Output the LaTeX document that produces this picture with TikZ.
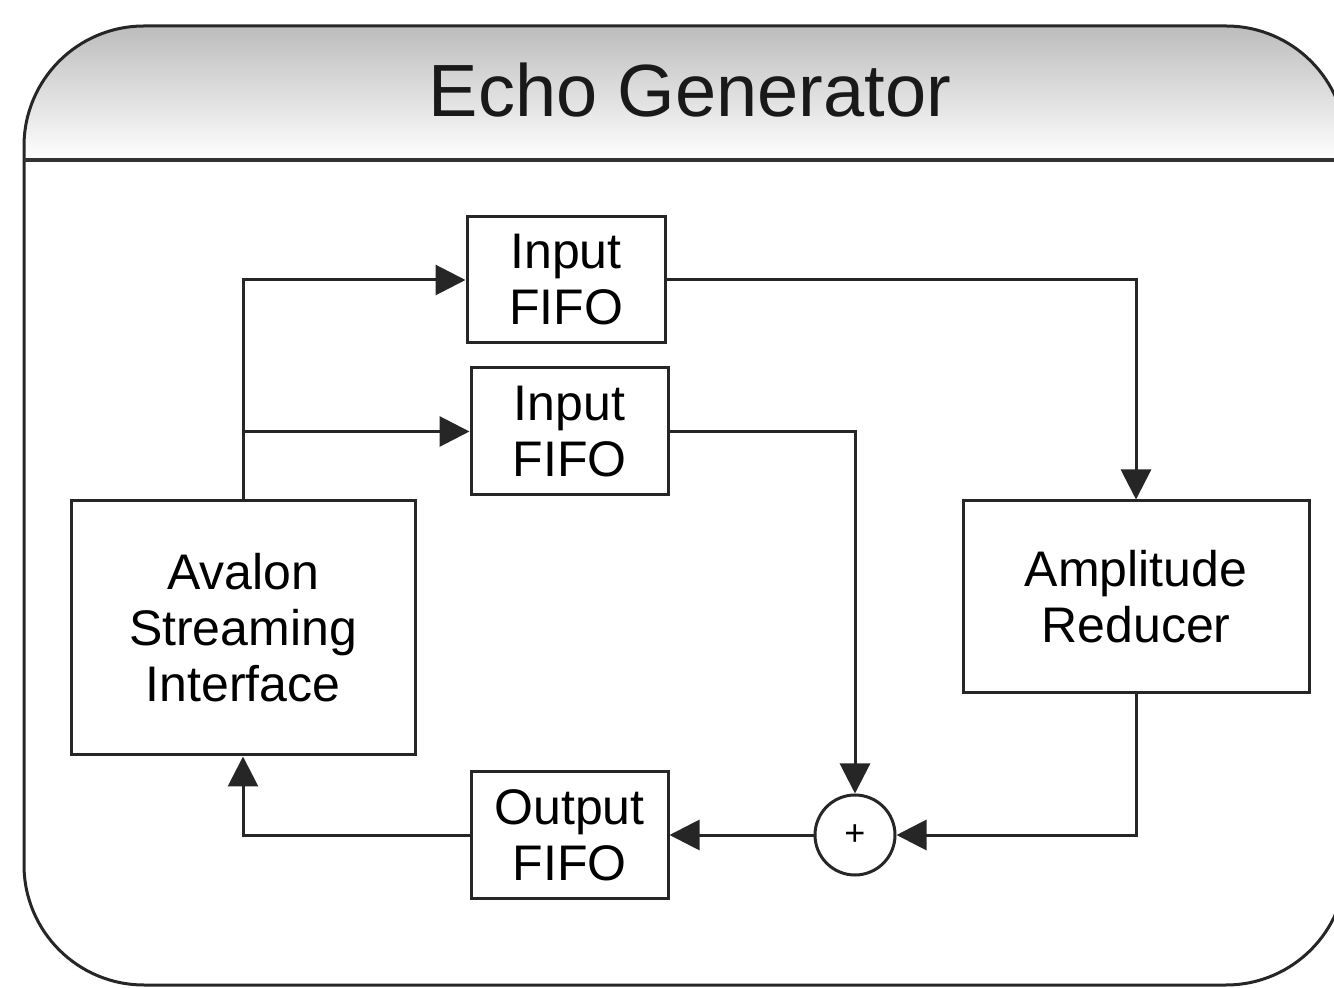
\documentclass[tikz,border=0pt]{standalone}
\usepackage{fontspec}
\setmainfont{Liberation Sans}
\usetikzlibrary{arrows.meta}
\begin{document}
\begin{tikzpicture}[x=0.5pt,y=-0.5pt,
  blk/.style={draw=black!85, line width=1.5pt, fill=white, align=center,
    font=\fontsize{25}{28}\selectfont, inner sep=0pt},
  conn/.style={line width=1.5pt, draw=black!85,
    -{Triangle[length=15pt,width=15pt]}},
]
\useasboundingbox (0,0) rectangle (1334,988);
\begin{scope}
  \clip (0,0) rectangle (1334,988);
  \begin{scope}
    \clip[rounded corners=60pt] (24,26) rectangle (1346,985);
    \shade[top color={rgb,255:red,188;green,188;blue,188}, bottom color=white]
      (0,26) rectangle (1346,160);
  \end{scope}
  \draw[line width=1.5pt, draw=black!85, rounded corners=60pt] (24,26) rectangle (1346,985);
  \draw[line width=2pt, draw=black!80] (24,160) -- (1346,160);
\end{scope}
\node[font=\fontsize{37}{40}\selectfont, text=black!90] (title) at (690,90) {Echo Generator};

\node[blk, minimum width=172pt, minimum height=127pt] (av) at (243,628) {Avalon\\Streaming\\Interface};
\node[blk, minimum width=99pt, minimum height=63pt] (f1) at (566,280) {Input\\FIFO};
\node[blk, minimum width=98.5pt, minimum height=63.5pt] (f2) at (569.5,431.5) {Input\\FIFO};
\node[blk, minimum width=173pt, minimum height=96pt] (amp) at (1136,597) {Amplitude\\Reducer};
\node[blk, minimum width=98.5pt, minimum height=63pt] (of) at (569.5,835) {Output\\FIFO};
\node[draw=black!85, circle, line width=1.5pt, minimum size=40pt, inner sep=0pt,
  font=\fontsize{18}{18}\selectfont] (sum) at (855,835) {+};

\coordinate (br) at (av.north |- f2.west);
\draw[conn] (av.north) |- (f1.west);
\draw[conn] (br) -- (f2.west);
\draw[conn] (f1.east) -| (amp.north);
\draw[conn] (f2.east) -| (sum.north);
\draw[conn] (amp.south) |- (sum.east);
\draw[conn] (sum.west) -- (of.east);
\draw[conn] (of.west) -| (av.south);
\end{tikzpicture}
\end{document}
